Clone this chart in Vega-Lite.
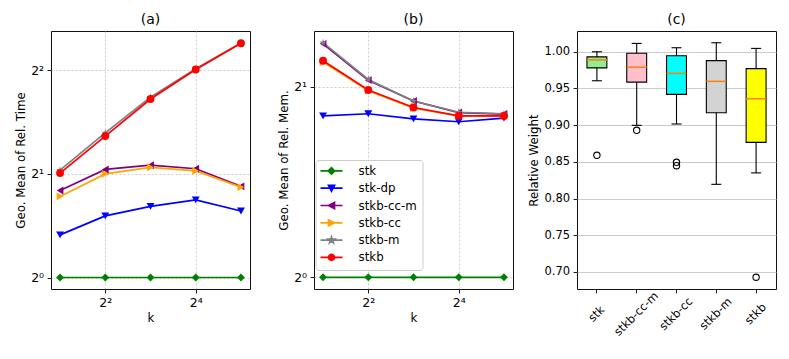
{
  "$schema": "https://vega.github.io/schema/vega-lite/v6.json",
  "padding": {"left": 15, "top": 12, "right": 5, "bottom": 5},
  "background": "white",
  "config": {
    "font": "DejaVu Sans",
    "view": {"stroke": "#111111", "strokeWidth": 1},
    "axis": {
      "labelFont": "DejaVu Sans", "labelFontSize": 11.5, "labelColor": "#000000",
      "titleFont": "DejaVu Sans", "titleFontSize": 11.8, "titleFontWeight": "normal", "titleColor": "#000000",
      "tickColor": "#000000", "tickSize": 3.9, "tickWidth": 0.9, "labelPadding": 3.5,
      "domain": false, "gridColor": "#c0c0c0", "gridWidth": 0.8, "titlePadding": 4
    },
    "title": {"font": "DejaVu Sans", "fontSize": 14, "fontWeight": "normal", "color": "#000000", "offset": 4}
  },
  "datasets": {
    "time": [
      {"method": "stk", "k": 2, "v": 1}, {"method": "stk", "k": 4, "v": 1}, {"method": "stk", "k": 8, "v": 1}, {"method": "stk", "k": 16, "v": 1}, {"method": "stk", "k": 32, "v": 1},
      {"method": "stk-dp", "k": 2, "v": 1.33}, {"method": "stk-dp", "k": 4, "v": 1.51}, {"method": "stk-dp", "k": 8, "v": 1.61}, {"method": "stk-dp", "k": 16, "v": 1.68}, {"method": "stk-dp", "k": 32, "v": 1.56},
      {"method": "stkb-cc-m", "k": 2, "v": 1.79}, {"method": "stkb-cc-m", "k": 4, "v": 2.06}, {"method": "stkb-cc-m", "k": 8, "v": 2.12}, {"method": "stkb-cc-m", "k": 16, "v": 2.07}, {"method": "stkb-cc-m", "k": 32, "v": 1.84},
      {"method": "stkb-cc", "k": 2, "v": 1.72}, {"method": "stkb-cc", "k": 4, "v": 2.0}, {"method": "stkb-cc", "k": 8, "v": 2.09}, {"method": "stkb-cc", "k": 16, "v": 2.04}, {"method": "stkb-cc", "k": 32, "v": 1.83},
      {"method": "stkb-m", "k": 2, "v": 2.05}, {"method": "stkb-m", "k": 4, "v": 2.63}, {"method": "stkb-m", "k": 8, "v": 3.34}, {"method": "stkb-m", "k": 16, "v": 4.04}, {"method": "stkb-m", "k": 32, "v": 4.8},
      {"method": "stkb", "k": 2, "v": 2.01}, {"method": "stkb", "k": 4, "v": 2.575}, {"method": "stkb", "k": 8, "v": 3.3}, {"method": "stkb", "k": 16, "v": 4.02}, {"method": "stkb", "k": 32, "v": 4.79}
    ],
    "mem": [
      {"method": "stk", "k": 2, "v": 1}, {"method": "stk", "k": 4, "v": 1}, {"method": "stk", "k": 8, "v": 1}, {"method": "stk", "k": 16, "v": 1}, {"method": "stk", "k": 32, "v": 1},
      {"method": "stk-dp", "k": 2, "v": 1.8}, {"method": "stk-dp", "k": 4, "v": 1.814}, {"method": "stk-dp", "k": 8, "v": 1.78}, {"method": "stk-dp", "k": 16, "v": 1.762}, {"method": "stk-dp", "k": 32, "v": 1.785},
      {"method": "stkb-cc-m", "k": 2, "v": 2.34}, {"method": "stkb-cc-m", "k": 4, "v": 2.05}, {"method": "stkb-cc-m", "k": 8, "v": 1.9}, {"method": "stkb-cc-m", "k": 16, "v": 1.822}, {"method": "stkb-cc-m", "k": 32, "v": 1.812},
      {"method": "stkb-cc", "k": 2, "v": 2.19}, {"method": "stkb-cc", "k": 4, "v": 1.972}, {"method": "stkb-cc", "k": 8, "v": 1.852}, {"method": "stkb-cc", "k": 16, "v": 1.8}, {"method": "stkb-cc", "k": 32, "v": 1.8},
      {"method": "stkb-m", "k": 2, "v": 2.35}, {"method": "stkb-m", "k": 4, "v": 2.055}, {"method": "stkb-m", "k": 8, "v": 1.9}, {"method": "stkb-m", "k": 16, "v": 1.824}, {"method": "stkb-m", "k": 32, "v": 1.814},
      {"method": "stkb", "k": 2, "v": 2.2}, {"method": "stkb", "k": 4, "v": 1.978}, {"method": "stkb", "k": 8, "v": 1.856}, {"method": "stkb", "k": 16, "v": 1.8}, {"method": "stkb", "k": 32, "v": 1.8}
    ],
    "boxes": [
      {"method": "stk", "lower": 0.9605, "q1": 0.978, "median": 0.989, "q3": 0.993, "upper": 1.0},
      {"method": "stkb-cc-m", "lower": 0.8998, "q1": 0.9587, "median": 0.979, "q3": 0.998, "upper": 1.0114},
      {"method": "stkb-cc", "lower": 0.9016, "q1": 0.942, "median": 0.9706, "q3": 0.9946, "upper": 1.0055},
      {"method": "stkb-m", "lower": 0.8194, "q1": 0.917, "median": 0.9597, "q3": 0.988, "upper": 1.0123},
      {"method": "stkb", "lower": 0.835, "q1": 0.8766, "median": 0.936, "q3": 0.977, "upper": 1.0046}
    ],
    "outliers": [
      {"method": "stk", "value": 0.859},
      {"method": "stkb-cc-m", "value": 0.893},
      {"method": "stkb-cc", "value": 0.8494},
      {"method": "stkb-cc", "value": 0.8448},
      {"method": "stkb", "value": 0.6928}
    ]
  },
  "bounds": "flush",
  "spacing": 64,
  "resolve": {
    "scale": {"color": "independent", "shape": "independent", "fill": "independent", "stroke": "independent"},
    "legend": {"color": "independent", "shape": "independent", "fill": "independent", "stroke": "independent"}
  },
  "hconcat": [
    {
      "width": 199, "height": 258,
      "title": "(a)",
      "data": {"name": "time"},
      "encoding": {
        "x": {"field": "k", "type": "quantitative",
          "scale": {"type": "log", "base": 2, "domain": [1.7411, 36.758], "nice": false, "zero": false},
          "axis": {"values": [4, 16], "labelFontSize": 12.5, "labelExpr": "'2' + ['⁰','¹','²','³','⁴','⁵'][round(log(datum.value)/log(2))]", "title": "k", "grid": true, "gridDash": [2, 2]}},
        "y": {"field": "v", "type": "quantitative",
          "scale": {"type": "log", "base": 2, "domain": [0.926, 5.2], "nice": false, "zero": false},
          "axis": {"values": [1, 2, 4], "labelFontSize": 12.5, "labelExpr": "'2' + ['⁰','¹','²','³','⁴','⁵'][round(log(datum.value)/log(2))]", "title": "Geo. Mean of Rel. Time", "grid": true, "gridDash": [2, 2]}},
        "color": {"field": "method", "type": "nominal",
          "scale": {"domain": ["stk", "stk-dp", "stkb-cc-m", "stkb-cc", "stkb-m", "stkb"], "range": ["#008000", "#0000ff", "#800080", "#ffa500", "#808080", "#ff0000"]},
          "legend": null}
      },
      "layer": [
        {"mark": {"type": "line", "strokeWidth": 1.7}},
        {"mark": {"type": "point", "filled": true, "size": 62, "opacity": 1},
          "encoding": {"shape": {"field": "method", "type": "nominal",
            "scale": {"domain": ["stk", "stk-dp", "stkb-cc-m", "stkb-cc", "stkb-m", "stkb"], "range": ["diamond", "triangle-down", "triangle-left", "triangle-right", "M0,-1L0.225,-0.309L0.951,-0.309L0.363,0.118L0.588,0.809L0,0.382L-0.588,0.809L-0.363,0.118L-0.951,-0.309L-0.225,-0.309Z", "circle"]},
            "legend": null}}}
      ]
    },
    {
      "width": 199, "height": 258,
      "title": "(b)",
      "data": {"name": "mem"},
      "encoding": {
        "x": {"field": "k", "type": "quantitative",
          "scale": {"type": "log", "base": 2, "domain": [1.7411, 36.758], "nice": false, "zero": false},
          "axis": {"values": [4, 16], "labelFontSize": 12.5, "labelExpr": "'2' + ['⁰','¹','²','³','⁴','⁵'][round(log(datum.value)/log(2))]", "title": "k", "grid": true, "gridDash": [2, 2]}},
        "y": {"field": "v", "type": "quantitative",
          "scale": {"type": "log", "base": 2, "domain": [0.9582, 2.452], "nice": false, "zero": false},
          "axis": {"values": [1, 2], "labelFontSize": 12.5, "labelExpr": "'2' + ['⁰','¹','²','³','⁴','⁵'][round(log(datum.value)/log(2))]", "title": "Geo. Mean of Rel. Mem.", "grid": true, "gridDash": [2, 2]}}
      },
      "resolve": {
        "scale": {"color": "independent", "shape": "independent", "fill": "independent", "stroke": "independent"},
        "legend": {"color": "independent", "shape": "independent", "fill": "independent", "stroke": "independent"}
      },
      "layer": [
        {"mark": {"type": "line", "strokeWidth": 1.7},
          "encoding": {"color": {"field": "method", "type": "nominal",
            "scale": {"domain": ["stk", "stk-dp", "stkb-cc-m", "stkb-cc", "stkb-m", "stkb"], "range": ["#008000", "#0000ff", "#800080", "#ffa500", "#808080", "#ff0000"]},
            "legend": null}}},
        {"mark": {"type": "point", "filled": true, "size": 62, "opacity": 1},
          "encoding": {
            "color": {"field": "method", "type": "nominal",
              "scale": {"domain": ["stk", "stk-dp", "stkb-cc-m", "stkb-cc", "stkb-m", "stkb"], "range": ["#008000", "#0000ff", "#800080", "#ffa500", "#808080", "#ff0000"]},
              "legend": null},
            "shape": {"field": "method", "type": "nominal",
              "scale": {"domain": ["stk", "stk-dp", "stkb-cc-m", "stkb-cc", "stkb-m", "stkb"], "range": ["diamond", "triangle-down", "triangle-left", "triangle-right", "M0,-1L0.225,-0.309L0.951,-0.309L0.363,0.118L0.588,0.809L0,0.382L-0.588,0.809L-0.363,0.118L-0.951,-0.309L-0.225,-0.309Z", "circle"]},
              "legend": null}}},
        {"transform": [{"filter": "false"}],
          "mark": {"type": "point", "filled": true, "opacity": 1, "strokeWidth": 1.7},
          "encoding": {
            "fill": {"field": "method", "type": "nominal",
              "scale": {"domain": ["stk", "stk-dp", "stkb-cc-m", "stkb-cc", "stkb-m", "stkb"], "range": ["#008000", "#0000ff", "#800080", "#ffa500", "#808080", "#ff0000"]},
              "legend": {"title": null, "orient": "none", "legendX": 1.5, "legendY": 129, "symbolSize": 64, "symbolStrokeWidth": 1.7, "symbolOffset": 5.1, "labelOffset": 21.2, "rowPadding": 3.3, "padding": 5, "labelFont": "DejaVu Sans", "labelFontSize": 11.8, "labelColor": "#000000", "fillColor": "rgba(255,255,255,0.8)", "strokeColor": "#cccccc", "cornerRadius": 3}},
            "stroke": {"field": "method", "type": "nominal",
              "scale": {"domain": ["stk", "stk-dp", "stkb-cc-m", "stkb-cc", "stkb-m", "stkb"], "range": ["#008000", "#0000ff", "#800080", "#ffa500", "#808080", "#ff0000"]},
              "legend": {"title": null, "orient": "none", "legendX": 1.5, "legendY": 129, "symbolSize": 64, "symbolStrokeWidth": 1.7, "symbolOffset": 5.1, "labelOffset": 21.2, "rowPadding": 3.3, "padding": 5, "labelFont": "DejaVu Sans", "labelFontSize": 11.8, "labelColor": "#000000", "fillColor": "rgba(255,255,255,0.8)", "strokeColor": "#cccccc", "cornerRadius": 3}},
            "shape": {"field": "method", "type": "nominal",
              "scale": {"domain": ["stk", "stk-dp", "stkb-cc-m", "stkb-cc", "stkb-m", "stkb"], "range": [
                "M-2.75,0L2.75,0M-0.8,0L0,-0.8L0.8,0L0,0.8Z",
                "M-2.75,0L2.75,0M-0.75,-0.7L0.75,-0.7L0,0.75Z",
                "M-2.75,0L2.75,0M-0.75,0L0.75,-0.75L0.75,0.75Z",
                "M-2.75,0L2.75,0M0.75,0L-0.75,-0.75L-0.75,0.75Z",
                "M-2.75,0L2.75,0M0,-0.8L0.18,-0.247L0.761,-0.247L0.29,0.094L0.47,0.647L0,0.306L-0.47,0.647L-0.29,0.094L-0.761,-0.247L-0.18,-0.247Z",
                "M-2.75,0L2.75,0M0.75,0A0.75,0.75,0,1,1,-0.75,0A0.75,0.75,0,1,1,0.75,0Z"]},
              "legend": {"title": null, "orient": "none", "legendX": 1.5, "legendY": 129, "symbolSize": 64, "symbolStrokeWidth": 1.7, "symbolOffset": 5.1, "labelOffset": 21.2, "rowPadding": 3.3, "padding": 5, "labelFont": "DejaVu Sans", "labelFontSize": 11.8, "labelColor": "#000000", "fillColor": "rgba(255,255,255,0.8)", "strokeColor": "#cccccc", "cornerRadius": 3}}
          }}
      ]
    },
    {
      "width": 199, "height": 258,
      "title": "(c)",
      "layer": [
        {
          "data": {"name": "boxes"},
          "mark": {"type": "rule", "color": "#000000", "strokeWidth": 1.1},
          "encoding": {
            "x": {"field": "method", "type": "nominal", "sort": ["stk", "stkb-cc-m", "stkb-cc", "stkb-m", "stkb"],
              "scale": {"type": "band", "paddingInner": 0, "paddingOuter": 0, "domain": ["stk", "stkb-cc-m", "stkb-cc", "stkb-m", "stkb"]},
              "axis": {"title": null, "labelAngle": -45, "labelAlign": "center", "labelBaseline": "middle", "labelPadding": 21, "bandPosition": 0.5, "grid": false, "labelOverlap": false}},
            "y": {"field": "lower", "type": "quantitative", "title": "Relative Weight",
              "scale": {"domain": [0.6768, 1.0283], "nice": false, "zero": false},
              "axis": {"values": [0.7, 0.75, 0.8, 0.85, 0.9, 0.95, 1.0], "format": ".2f", "grid": true, "gridColor": "#cccccc", "gridWidth": 1}},
            "y2": {"field": "upper"}
          }
        },
        {
          "data": {"name": "boxes"},
          "mark": {"type": "tick", "color": "#000000", "size": 10, "thickness": 1.1, "opacity": 1},
          "encoding": {
            "x": {"field": "method", "type": "nominal"},
            "y": {"field": "lower", "type": "quantitative", "title": "Relative Weight"}
          }
        },
        {
          "data": {"name": "boxes"},
          "mark": {"type": "tick", "color": "#000000", "size": 10, "thickness": 1.1, "opacity": 1},
          "encoding": {
            "x": {"field": "method", "type": "nominal"},
            "y": {"field": "upper", "type": "quantitative", "title": "Relative Weight"}
          }
        },
        {
          "data": {"name": "boxes"},
          "mark": {"type": "bar", "width": {"band": 0.5}, "stroke": "#000000", "strokeWidth": 1.1, "opacity": 1},
          "encoding": {
            "x": {"field": "method", "type": "nominal"},
            "y": {"field": "q1", "type": "quantitative", "title": "Relative Weight"},
            "y2": {"field": "q3"},
            "color": {"field": "method", "type": "nominal",
              "scale": {"domain": ["stk", "stkb-cc-m", "stkb-cc", "stkb-m", "stkb"], "range": ["#90ee90", "#ffc0cb", "#00ffff", "#d3d3d3", "#ffff00"]},
              "legend": null}
          }
        },
        {
          "data": {"name": "boxes"},
          "mark": {"type": "tick", "color": "#ff7f0e", "size": 20, "thickness": 1.5, "opacity": 1},
          "encoding": {
            "x": {"field": "method", "type": "nominal"},
            "y": {"field": "median", "type": "quantitative", "title": "Relative Weight"}
          }
        },
        {
          "data": {"name": "outliers"},
          "mark": {"type": "point", "filled": false, "color": "#000000", "size": 40, "strokeWidth": 1.1, "opacity": 1},
          "encoding": {
            "x": {"field": "method", "type": "nominal"},
            "y": {"field": "value", "type": "quantitative", "title": "Relative Weight"}
          }
        }
      ]
    }
  ]
}
